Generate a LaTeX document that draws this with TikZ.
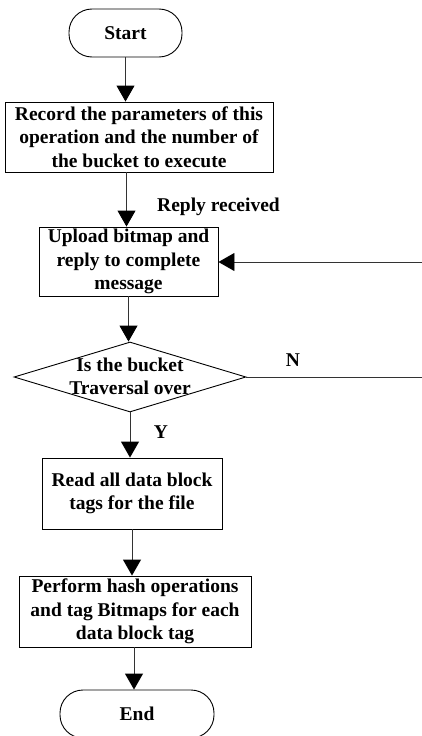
\documentclass[tikz,border=0pt]{standalone}
\usepackage{fontspec}
\setmainfont{Liberation Serif}
\usetikzlibrary{shapes.geometric,arrows.meta}
\begin{document}
\begin{tikzpicture}[x=1pt,y=-1pt,
  every node/.style={font=\fontsize{19.5}{23.5}\selectfont\bfseries, inner sep=0pt},
  term/.style={draw, line width=0.9pt, rounded corners=23pt, align=center},
  proc/.style={draw, line width=0.9pt, align=center},
  dec/.style={draw, line width=0.9pt, shape=diamond, minimum width=232pt, minimum height=70pt},
  txt/.style={align=center},
  arr/.style={draw=black!80, line width=0.9pt, -{Triangle[length=16pt,width=18pt,color=black,fill=black]}},
  ln/.style={draw=black!80, line width=0.9pt}]
\useasboundingbox (0,0) rectangle (422,736);
\node[term, minimum width=113pt, minimum height=48pt] (start) at (125.5,33) {Start};
\node[proc, minimum width=268pt, minimum height=70pt] (b1) at (139,137) {Record the parameters of this\\operation and the number of\\the bucket to execute};
\node[proc, minimum width=179pt, minimum height=69pt] (b2) at (128.5,261.5) {Upload bitmap and\\reply to complete\\message};
\node[dec] (d) at (130,377) {};
\node[txt] (dt) at (130,376.5) {Is the bucket\\Traversal over};
\node[proc, minimum width=180pt, minimum height=71pt] (b3) at (132,493.5) {Read all data block\\tags for the file};
\node[proc, minimum width=232pt, minimum height=71pt] (b4) at (135,611.5) {Perform hash operations\\and tag Bitmaps for each\\data block tag};
\node[term, minimum width=154pt, minimum height=48pt] (end) at (137,714) {End};
\node[txt] (lr) at (218.5,207) {Reply received};
\node[txt] (ln) at (293,360) {N};
\node[txt] (ly) at (161,432) {Y};
\coordinate (rt1) at (422,262);
\coordinate (rt2) at (422,377);
\draw[arr] (start.south) -- (start.south |- b1.north);
\draw[arr] ([xshift=-2pt]b2.north |- b1.south) -- ([xshift=-2pt]b2.north);
\draw[arr] (b2.south) -- (b2.south |- d.north);
\draw[arr] (d.south) -- (d.south |- b3.north);
\draw[arr] (b3.south) -- (b3.south |- b4.north);
\draw[arr] ([xshift=-1pt]b4.south) -- ([xshift=-1pt]b4.south |- end.north);
\draw[ln] (d.east) -- (rt2);
\draw[arr] (rt1) -- (rt1 -| b2.east);
\end{tikzpicture}
\end{document}
